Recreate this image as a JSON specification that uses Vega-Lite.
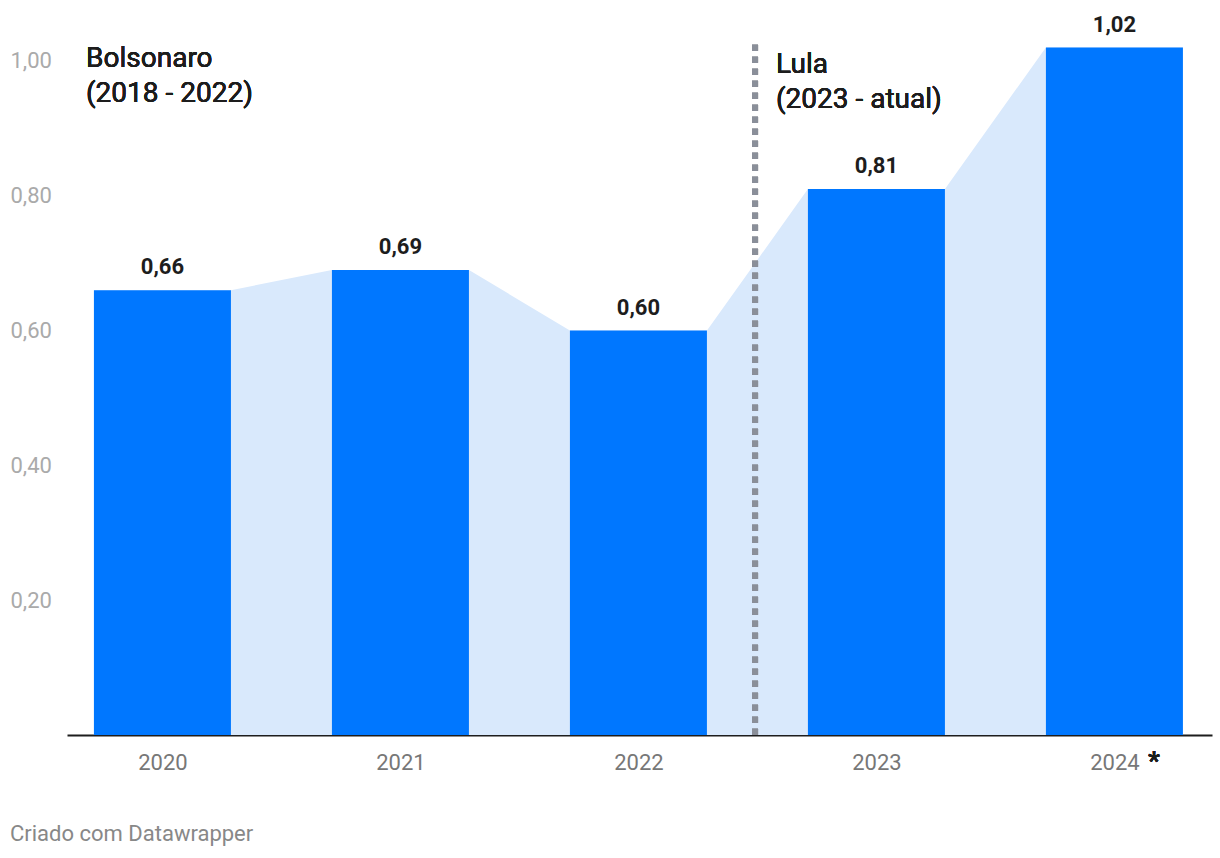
{
  "$schema": "https://vega.github.io/schema/vega-lite/v6.json",
  "width": 1145,
  "height": 735,
  "autosize": "none",
  "padding": {"left": 67, "top": 0, "right": 8, "bottom": 123},
  "background": "#ffffff",
  "config": {
    "view": {"stroke": null},
    "font": "Roboto",
    "text": {"font": "Roboto"}
  },
  "title": {
    "text": "Criado com Datawrapper",
    "orient": "bottom",
    "anchor": "start",
    "frame": "group",
    "dx": -57,
    "offset": 49,
    "font": "Roboto",
    "fontSize": 22,
    "fontWeight": "normal",
    "color": "#888888"
  },
  "data": {
    "values": [
      {"year": 2020, "value": 0.66, "label": "0,66"},
      {"year": 2021, "value": 0.69, "label": "0,69"},
      {"year": 2022, "value": 0.60, "label": "0,60"},
      {"year": 2023, "value": 0.81, "label": "0,81"},
      {"year": 2024, "value": 1.02, "label": "1,02"}
    ]
  },
  "layer": [
    {
      "transform": [
        {"calculate": "[datum.year - 0.288, datum.year + 0.288]", "as": "edge"},
        {"flatten": ["edge"]}
      ],
      "mark": {"type": "area", "color": "#d9e9fc", "interpolate": "linear"},
      "encoding": {
        "x": {
          "field": "edge",
          "type": "quantitative",
          "scale": {"domain": [2019.599, 2024.41], "nice": false, "zero": false, "padding": 0},
          "axis": {
            "values": [2020, 2021, 2022, 2023, 2024],
            "labelExpr": "format(datum.value, 'd')",
            "title": null,
            "grid": false,
            "ticks": false,
            "domain": true,
            "domainColor": "#1d1d1d",
            "domainWidth": 2,
            "labelFont": "Roboto",
            "labelFontSize": 22,
            "labelColor": "#777777",
            "labelPadding": 17
          }
        },
        "y": {
          "field": "value",
          "type": "quantitative",
          "scale": {"domain": [0, 1.0905], "nice": false, "padding": 0},
          "axis": {
            "values": [0.2, 0.4, 0.6, 0.8, 1.0],
            "labelExpr": "replace(format(datum.value, '.2f'), '.', ',')",
            "title": null,
            "grid": false,
            "ticks": false,
            "domain": false,
            "labelAlign": "left",
            "labelBaseline": "middle",
            "labelPadding": 57,
            "labelFont": "Roboto",
            "labelFontSize": 22,
            "labelColor": "#aaaaaa"
          }
        }
      }
    },
    {
      "mark": {"type": "bar", "color": "#0077ff", "width": 137, "orient": "vertical"},
      "encoding": {
        "x": {"field": "year", "type": "quantitative"},
        "y": {"field": "value", "type": "quantitative"},
        "y2": {"datum": 0}
      }
    },
    {
      "mark": {"type": "text", "font": "Roboto", "fontSize": 22, "fontWeight": "bold", "color": "#1d1d1d", "baseline": "alphabetic", "dy": -16},
      "encoding": {
        "x": {"field": "year", "type": "quantitative"},
        "y": {"field": "value", "type": "quantitative"},
        "text": {"field": "label"}
      }
    },
    {
      "mark": {"type": "rule", "color": "#8a8f99", "strokeWidth": 6, "strokeDash": [6, 6]},
      "encoding": {
        "x": {"datum": 2022.49},
        "y": {"datum": 1.024},
        "y2": {"datum": 0}
      }
    },
    {
      "mark": {"type": "text", "text": ["Bolsonaro", "(2018 - 2022)"], "font": "Roboto", "fontSize": 28, "color": "#1d1d1d", "align": "left", "baseline": "alphabetic", "lineHeight": 35},
      "encoding": {
        "x": {"datum": 2019.679},
        "y": {"datum": 0.991}
      }
    },
    {
      "mark": {"type": "text", "text": ["Lula", "(2023 - atual)"], "font": "Roboto", "fontSize": 28, "color": "#1d1d1d", "align": "left", "baseline": "alphabetic", "lineHeight": 35},
      "encoding": {
        "x": {"datum": 2022.578},
        "y": {"datum": 0.982}
      }
    },
    {
      "mark": {"type": "text", "text": "*", "font": "Roboto", "fontSize": 26, "fontWeight": "bold", "color": "#1d1d1d", "align": "center", "baseline": "alphabetic"},
      "encoding": {
        "x": {"datum": 2024.166},
        "y": {"datum": -0.0519}
      }
    }
  ]
}
